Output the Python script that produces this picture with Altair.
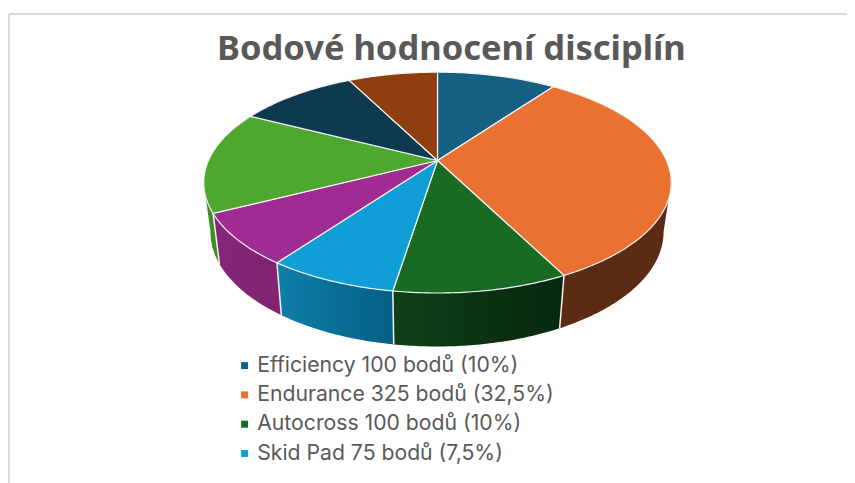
import math
import altair as alt
import pandas as pd

TITLE = "Bodové hodnocení disciplín"
names = ["Efficiency 100 bodů (10%)", "Endurance 325 bodů (32,5%)", "Autocross 100 bodů (10%)",
         "Skid Pad 75 bodů (7,5%)", "Akcelerace 75 bodů (7,5%)", "Design 150 bodů (15%)",
         "Cost 100 bodů (10%)", "Business 75 bodů (7,5%)"]
points = [100, 325, 100, 75, 75, 150, 100, 75]
colors = ["#156082", "#E97132", "#196B24", "#0F9ED5", "#A02B93", "#4EA72E", "#0D3A4E", "#8F3F0E"]
wall_left = ["#156082", "#5C2B14", "#0F4017", "#0E7FA9", "#84267A", "#3F8E25", "#0D3A4E", "#8F3F0E"]
wall_right = ["#156082", "#5C2B14", "#07280D", "#055E85", "#80246F", "#3F8E25", "#0D3A4E", "#8F3F0E"]
legend_names = names[:4]

K = 0.2
TOP = dict(cx=437.5, cy=160.5, a=229.0, b=106.0)
LOW = dict(cx=437.0, cy=209.0, a=222.0, b=110.0)
VIS0, VIS1 = 101.5, 258.5


def rim(theta, p):
    t = math.radians(theta)
    w = 1 + K * math.cos(t)
    return p["cx"] + p["a"] * math.sin(t) / w, p["cy"] - p["b"] * math.cos(t) / w


def steps(t0, t1):
    n = max(2, int((t1 - t0) * 1.5))
    return [t0 + (t1 - t0) * i / n for i in range(n + 1)]


total = sum(points)
tops, walls, seps = [], [], []
acc = 0.0
for i, (nm, v) in enumerate(zip(names, points)):
    t0, t1 = acc / total * 360, (acc + v) / total * 360
    acc += v
    poly = [(TOP["cx"], TOP["cy"])] + [rim(t, TOP) for t in steps(t0, t1)]
    for j, (x, y) in enumerate(poly):
        tops.append(dict(name=nm, x=x, y=y, o=j))
    a, b = max(t0, VIS0), min(t1, VIS1)
    if a < b:
        ts = steps(a, b)
        poly = [rim(t, TOP) for t in ts] + [rim(t, LOW) for t in reversed(ts)]
        walls.append((i, pd.DataFrame([dict(x=x, y=y, o=j) for j, (x, y) in enumerate(poly)])))
    if VIS0 < t1 < VIS1:
        p, q = rim(t1, TOP), rim(t1, LOW)
        seps.append(dict(x=p[0], y=p[1], x2=q[0], y2=q[1]))

X = alt.X("x:Q", scale=alt.Scale(domain=[8, 847]), axis=None)
Y = alt.Y("y:Q", scale=alt.Scale(domain=[483, 8]), axis=None)

frame = alt.Chart(pd.DataFrame([dict(x=9, x2=9, y=14, y2=483), dict(x=9, x2=847, y=14, y2=14)])).mark_rule(
    color="#DADADA", strokeWidth=2).encode(x=X, x2="x2:Q", y=Y, y2="y2:Q")

layers = [frame]
for i, df in walls:
    grad = alt.Gradient(gradient="linear", x1=0, x2=1, y1=0, y2=0,
                        stops=[alt.GradientStop(offset=0, color=wall_left[i]),
                               alt.GradientStop(offset=1, color=wall_right[i])])
    layers.append(alt.Chart(df).mark_line(fill=grad, stroke=None, interpolate="linear-closed").encode(
        x=X, y=Y, order="o:Q"))

layers.append(alt.Chart(pd.DataFrame(seps)).mark_rule(color="#F2F2F2", strokeWidth=1.5).encode(
    x=X, x2="x2:Q", y=Y, y2="y2:Q"))

layers.append(alt.Chart(pd.DataFrame(tops)).mark_line(
    stroke="#F2F2F2", strokeWidth=1.2, interpolate="linear-closed").encode(
    x=X, y=Y, order="o:Q", detail="name:N",
    fill=alt.Fill("name:N", scale=alt.Scale(domain=names, range=colors),
                  legend=alt.Legend(values=legend_names, orient="none", legendX=226, legendY=347,
                                    title=None, symbolType="square", symbolSize=49, symbolStrokeWidth=0,
                                    labelFont="Inter", labelFontSize=21.2, labelColor="#595959",
                                    labelLimit=400, rowPadding=7.3, labelOffset=2))))

chart = alt.layer(*layers).properties(
    width=839, height=475, padding=0, autosize=alt.AutoSizeParams(type="none"), background="white",
    title=alt.TitleParams(TITLE, font="Noto Sans", fontSize=34.5, fontWeight="bold", color="#595959",
                          anchor="start", frame="group", dx=209, dy=86, offset=0, baseline="alphabetic"),
).configure_view(stroke=None)

chart.save("out.html", embed_options={"renderer": "svg", "actions": False})
